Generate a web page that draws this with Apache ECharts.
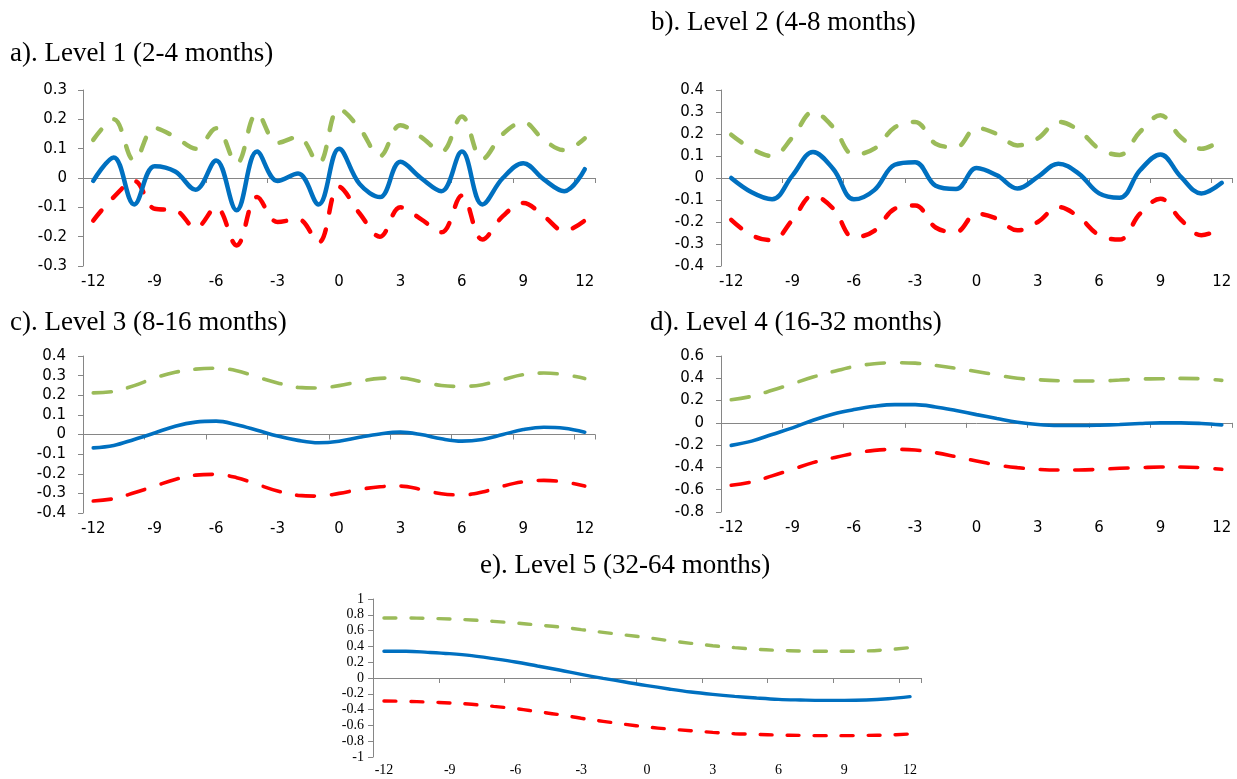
<!DOCTYPE html>
<html><head><meta charset="utf-8">
<script src="https://cdn.jsdelivr.net/npm/echarts@6/dist/echarts.min.js"></script>
<style>html,body{margin:0;padding:0;background:#fff}#c{width:1237px;height:779px}</style>
</head><body><div id="c"></div>
<script>
const months = ['-12','-11','-10','-9','-8','-7','-6','-5','-4','-3','-2','-1','0','1','2','3','4','5','6','7','8','9','10','11','12'];
const titles = ['a). Level 1 (2-4 months)','b). Level 2 (4-8 months)','c). Level 3 (8-16 months)','d). Level 4 (16-32 months)','e). Level 5 (32-64 months)'];

const aMid = [-0.01,0.07,-0.09,0.04,0.022,-0.04,0.06,-0.11,0.09,-0.01,0.015,-0.09,0.10,-0.02,-0.065,0.055,0.0,-0.045,0.09,-0.09,0.0,0.05,-0.005,-0.045,0.03];
const aUp  = [0.13,0.20,0.06,0.17,0.14,0.10,0.17,0.05,0.22,0.12,0.14,0.05,0.235,0.17,0.075,0.18,0.14,0.09,0.21,0.065,0.15,0.19,0.13,0.095,0.135];
const aLow = [-0.145,-0.065,-0.01,-0.105,-0.11,-0.17,-0.10,-0.23,-0.065,-0.15,-0.14,-0.22,-0.03,-0.12,-0.20,-0.10,-0.14,-0.185,-0.06,-0.21,-0.13,-0.085,-0.13,-0.18,-0.145];

const bMid = [0.0,-0.065,-0.097,0.012,0.118,0.04,-0.097,-0.055,0.06,0.072,-0.035,-0.05,0.045,0.012,-0.048,0.005,0.065,0.02,-0.07,-0.09,0.035,0.107,0.005,-0.07,-0.022];
const bUp  = [0.197,0.133,0.10,0.185,0.30,0.23,0.107,0.133,0.23,0.255,0.156,0.14,0.227,0.20,0.148,0.18,0.255,0.217,0.133,0.105,0.21,0.285,0.185,0.133,0.174];
const bLow = [-0.19,-0.26,-0.283,-0.19,-0.08,-0.14,-0.27,-0.24,-0.14,-0.125,-0.225,-0.245,-0.162,-0.185,-0.238,-0.20,-0.132,-0.177,-0.26,-0.28,-0.162,-0.094,-0.19,-0.26,-0.23];

const cMid = [-0.068,-0.056,-0.025,0.008,0.042,0.063,0.068,0.05,0.022,-0.008,-0.03,-0.042,-0.034,-0.014,0.003,0.012,0.0,-0.022,-0.034,-0.025,0.0,0.025,0.037,0.032,0.012];
const cUp  = [0.212,0.22,0.249,0.288,0.317,0.333,0.338,0.325,0.293,0.263,0.24,0.237,0.249,0.27,0.286,0.288,0.27,0.25,0.245,0.254,0.28,0.305,0.313,0.305,0.285];
const cLow = [-0.339,-0.327,-0.297,-0.263,-0.229,-0.207,-0.203,-0.22,-0.254,-0.288,-0.31,-0.314,-0.30,-0.28,-0.266,-0.263,-0.28,-0.302,-0.308,-0.293,-0.263,-0.241,-0.234,-0.242,-0.263];

const dMid = [-0.202,-0.164,-0.104,-0.045,0.024,0.08,0.119,0.149,0.164,0.164,0.143,0.11,0.074,0.039,0.006,-0.015,-0.024,-0.024,-0.021,-0.015,-0.006,0.0,0.0,-0.006,-0.018];
const dUp  = [0.208,0.238,0.292,0.351,0.411,0.461,0.505,0.53,0.54,0.536,0.515,0.49,0.461,0.43,0.40,0.387,0.378,0.375,0.375,0.384,0.393,0.396,0.399,0.396,0.381];
const dLow = [-0.56,-0.53,-0.476,-0.417,-0.357,-0.313,-0.274,-0.247,-0.238,-0.244,-0.268,-0.304,-0.342,-0.378,-0.402,-0.417,-0.423,-0.423,-0.417,-0.408,-0.402,-0.396,-0.396,-0.402,-0.417];

const eMid = [0.338,0.338,0.325,0.308,0.283,0.245,0.203,0.152,0.101,0.046,-0.004,-0.05,-0.097,-0.139,-0.177,-0.207,-0.232,-0.253,-0.27,-0.278,-0.283,-0.283,-0.278,-0.262,-0.236];
const eUp  = [0.759,0.759,0.755,0.747,0.734,0.717,0.696,0.671,0.646,0.612,0.578,0.544,0.511,0.473,0.439,0.409,0.384,0.363,0.35,0.342,0.338,0.338,0.342,0.359,0.384];
const eLow = [-0.291,-0.295,-0.304,-0.316,-0.333,-0.359,-0.388,-0.426,-0.464,-0.51,-0.549,-0.586,-0.62,-0.646,-0.667,-0.688,-0.705,-0.713,-0.722,-0.726,-0.73,-0.73,-0.726,-0.722,-0.709];

const yMins = [-0.3,-0.4,-0.4,-0.8,-1];
const yMaxs = [0.3,0.4,0.4,0.6,1];
const ySteps = [0.1,0.1,0.1,0.2,0.2];

const BLUE = '#0070C0', GREEN = '#9BBB59', RED = '#FF0000', AXIS = '#868686';

const panels = [
  {mid:aMid, up:aUp, low:aLow, grid:{left:83,top:90,width:512,height:176}, tpos:{left:10,top:40}, font:'DejaVu Sans', fs:15, lw:4.5, dash:[13,17], ylm:16, xlm:9},
  {mid:bMid, up:bUp, low:bLow, grid:{left:721,top:90,width:511,height:176}, tpos:{left:651,top:9}, font:'DejaVu Sans', fs:15, lw:4.5, dash:[13,17], ylm:17, xlm:9},
  {mid:cMid, up:cUp, low:cLow, grid:{left:83,top:356,width:512,height:157}, tpos:{left:10,top:309}, font:'DejaVu Sans', fs:15, lw:3.6, dash:[18,17], ylm:17, xlm:9},
  {mid:dMid, up:dUp, low:dLow, grid:{left:721,top:356,width:511,height:156}, tpos:{left:650,top:309}, font:'DejaVu Sans', fs:15, lw:3.6, dash:[18,17], ylm:17, xlm:9},
  {mid:eMid, up:eUp, low:eLow, grid:{left:373,top:599,width:548,height:158}, tpos:{left:480,top:552}, font:'Liberation Serif', fs:14, lw:3.4, dash:[12,15], ylm:9, xlm:6}
];

const option = {animation:false, backgroundColor:'#fff', title:[], grid:[], xAxis:[], yAxis:[], series:[]};
panels.forEach((p, i) => {
  option.title.push({text:titles[i], left:p.tpos.left, top:p.tpos.top, padding:0,
    textStyle:{fontFamily:'Liberation Serif', fontSize:27, fontWeight:'normal', color:'#000'}});
  option.grid.push(Object.assign({containLabel:false}, p.grid));
  option.xAxis.push({type:'category', gridIndex:i, data:months, boundaryGap:true, position:'bottom',
    axisLine:{onZero:true, lineStyle:{color:AXIS, width:1}},
    axisTick:{show:true, interval:2, length:5, lineStyle:{color:AXIS}},
    axisLabel:{show:false}, splitLine:{show:false}});
  option.xAxis.push({type:'category', gridIndex:i, data:months, boundaryGap:true, position:'bottom',
    axisLine:{show:false, onZero:false}, axisTick:{show:false}, splitLine:{show:false},
    axisLabel:{interval:2, margin:p.xlm, fontFamily:p.font, fontSize:p.fs, color:'#000'}});
  option.yAxis.push({type:'value', gridIndex:i, min:yMins[i], max:yMaxs[i], interval:ySteps[i],
    axisLine:{show:true, lineStyle:{color:AXIS, width:1}},
    axisTick:{show:true, length:5, lineStyle:{color:AXIS}},
    splitLine:{show:false},
    axisLabel:{margin:p.ylm, fontFamily:p.font, fontSize:p.fs, color:'#000'}});
  const common = {type:'line', xAxisIndex:2*i, yAxisIndex:i, smooth:0.38, symbol:'none', silent:true};
  option.series.push(Object.assign({}, common, {name:'upper', data:p.up, lineStyle:{color:GREEN, width:p.lw, type:p.dash, cap:'round'}}));
  option.series.push(Object.assign({}, common, {name:'lower', data:p.low, lineStyle:{color:RED, width:p.lw, type:p.dash, cap:'round'}}));
  option.series.push(Object.assign({}, common, {name:'estimate', data:p.mid, lineStyle:{color:BLUE, width:p.lw, cap:'round'}}));
});
const chart = echarts.init(document.getElementById('c'), null, {renderer:'canvas'});
chart.setOption(option);
</script></body></html>
